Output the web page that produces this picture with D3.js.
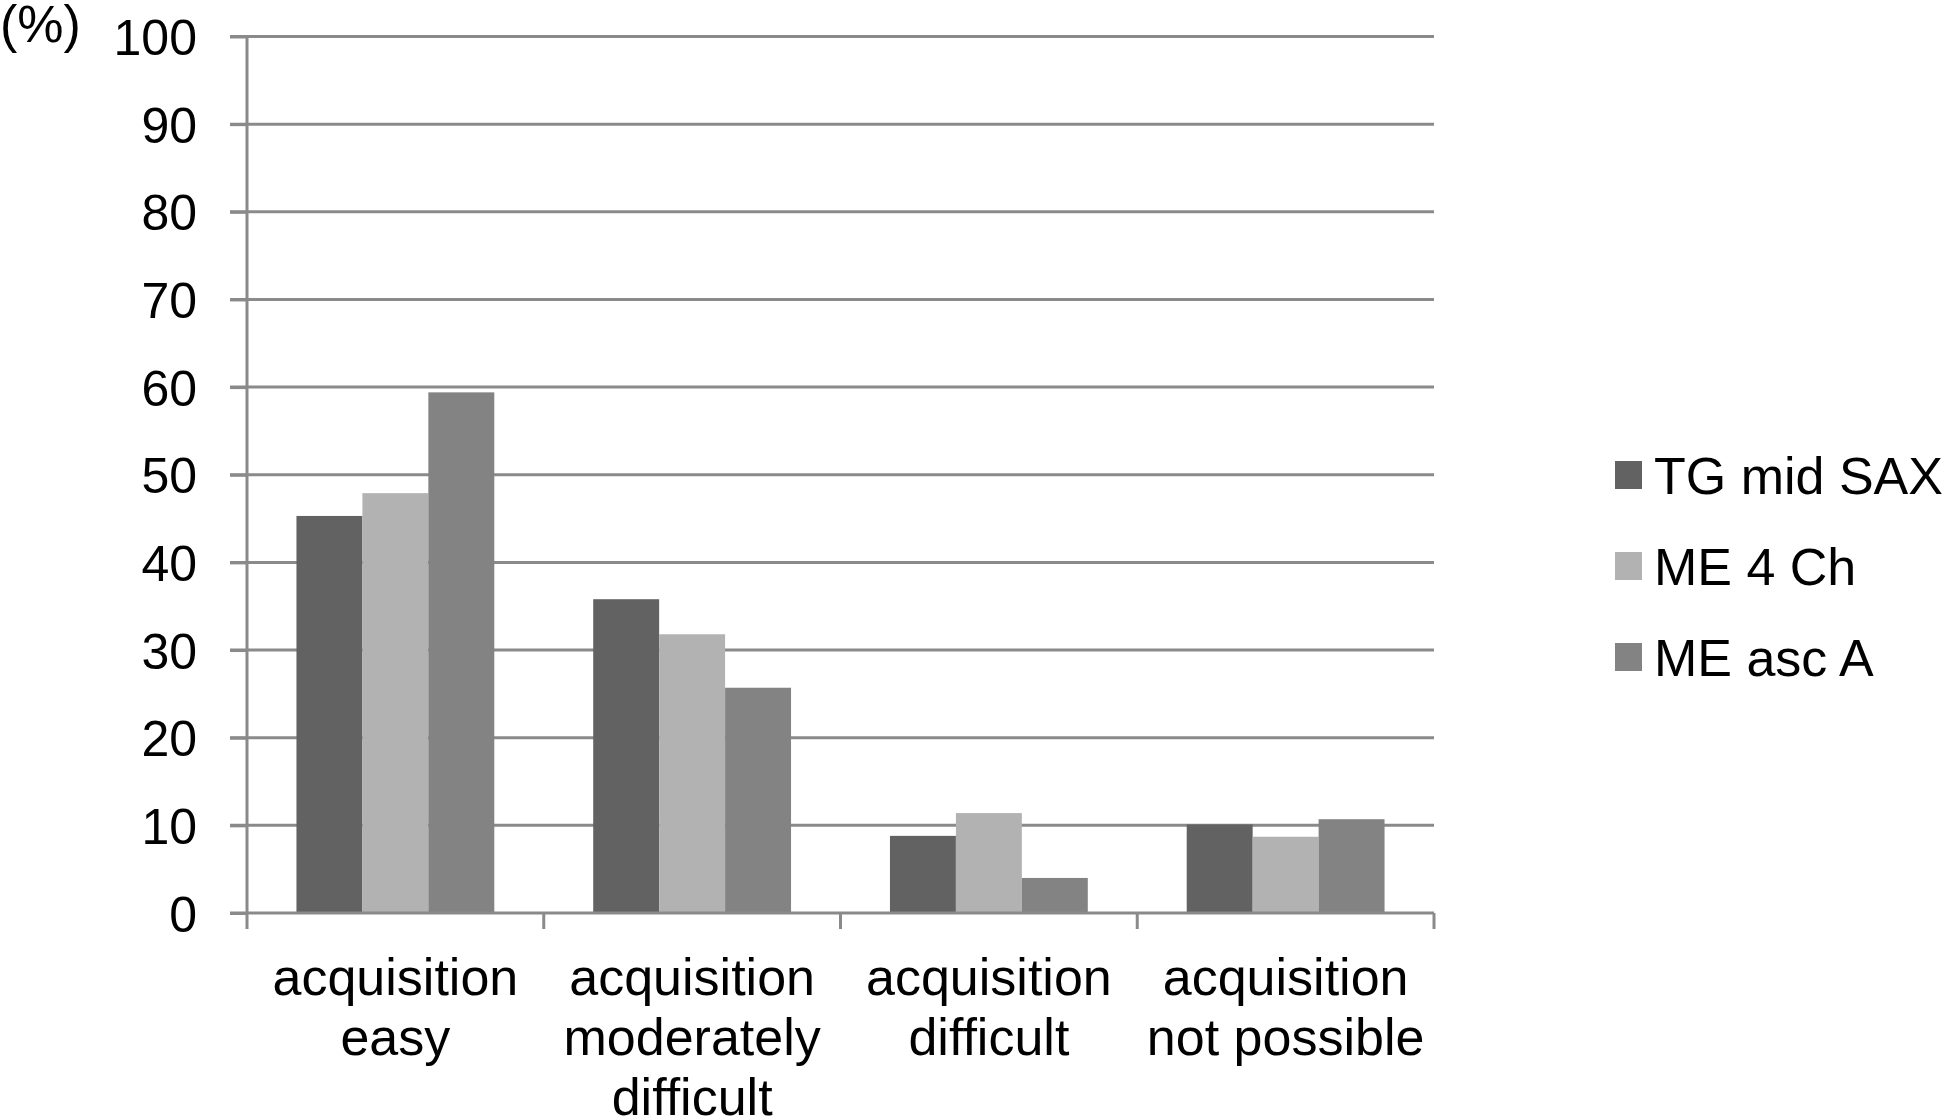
<!DOCTYPE html>
<html>
<head>
<meta charset="utf-8">
<script src="https://cdn.jsdelivr.net/npm/d3@7"></script>
<style>
  body { margin: 0; background: #fff; }
  svg { display: block; font-family: "Liberation Sans", Arial, sans-serif; }
</style>
</head>
<body>
<script>

// categories on the x axis (each one split in lines as in the picture)
var categories = ["easy", "moderately", "difficult", "not possible"];
var categoryLines = [
  ["acquisition", "easy"],
  ["acquisition", "moderately", "difficult"],
  ["acquisition", "difficult"],
  ["acquisition", "not possible"]
];

// series names and values (%)
var series = ["TG mid SAX", "ME 4 Ch", "ME asc A"];
var tgMidSax = [45.3, 35.8, 8.8, 10.1];
var me4Ch = [47.9, 31.8, 11.4, 8.7];
var meAscA = [59.4, 25.7, 4.0, 10.7];
var colors = ["#626262", "#b2b2b2", "#838383"];

// y tick labels
var yTicks = [0, 10, 20, 30, 40, 50, 60, 70, 80, 90, 100];


window.onload = function() {
  main();
};


function main() {
  var width = 1948;
  var height = 1119;
  var gridColor = "#8a8a8a";

  var svg = d3.select("body")
              .append("svg")
              .attr("width", width)
              .attr("height", height);

  // scales
  var x = d3.scaleBand()
            .domain(categories)
            .range([247, 1434]);
  var xs = d3.scaleBand()
             .domain(series)
             .range([0, x.bandwidth()])
             .paddingOuter(0.75);
  var y = d3.scaleLinear()
            .domain([0, 100])
            .range([913, 36.5]);

  // gridlines (behind the bars)
  svg.append("g")
     .selectAll("line")
     .data(yTicks.slice(1))
     .enter()
     .append("line")
     .attr("x1", 230)
     .attr("x2", 1434)
     .attr("y1", function(d) { return y(d); })
     .attr("y2", function(d) { return y(d); })
     .attr("stroke", gridColor)
     .attr("stroke-width", 3);

  // bars
  var values = [tgMidSax, me4Ch, meAscA];
  series.forEach(function(s, k) {
    svg.append("g")
       .selectAll("rect")
       .data(values[k])
       .enter()
       .append("rect")
       .attr("x", function(d, i) { return x(categories[i]) + xs(s); })
       .attr("y", function(d) { return y(d); })
       .attr("width", xs.bandwidth())
       .attr("height", function(d) { return y(0) - y(d); })
       .attr("fill", colors[k]);
  });

  // y axis
  var yAxis = d3.axisLeft(y)
                .tickValues(yTicks)
                .tickSize(17)
                .tickPadding(33)
                .tickSizeOuter(0);
  var gy = svg.append("g")
              .attr("transform", "translate(247,0)")
              .call(yAxis);
  gy.select(".domain").remove();
  gy.selectAll(".tick line")
    .attr("stroke", gridColor)
    .attr("stroke-width", 3);
  gy.selectAll(".tick text")
    .attr("fill", "#000")
    .style("font-size", "50px")
    .style("font-family", "Liberation Sans, Arial, sans-serif")
    .attr("dy", "0.36em");
  svg.append("line")
     .attr("x1", 247).attr("x2", 247)
     .attr("y1", y(100)).attr("y2", y(0) + 16)
     .attr("stroke", gridColor)
     .attr("stroke-width", 3);

  // x axis line and category boundary ticks
  svg.append("line")
     .attr("x1", 230).attr("x2", 1434)
     .attr("y1", y(0)).attr("y2", y(0))
     .attr("stroke", gridColor)
     .attr("stroke-width", 3);
  svg.append("g")
     .selectAll("line")
     .data(categories)
     .enter()
     .append("line")
     .attr("x1", function(d) { return x(d) + x.step(); })
     .attr("x2", function(d) { return x(d) + x.step(); })
     .attr("y1", y(0))
     .attr("y2", y(0) + 16)
     .attr("stroke", gridColor)
     .attr("stroke-width", 3);

  // category labels
  var labels = svg.append("g")
                  .selectAll("text")
                  .data(categories)
                  .enter()
                  .append("text")
                  .attr("text-anchor", "middle")
                  .style("font-size", "52px")
                  .attr("fill", "#000");
  labels.each(function(d, i) {
    var t = d3.select(this);
    categoryLines[i].forEach(function(line, j) {
      t.append("tspan")
       .attr("x", x(d) + x.bandwidth() / 2)
       .attr("y", 995 + j * 60)
       .text(line);
    });
  });

  // unit label
  svg.append("text")
     .attr("x", 0)
     .attr("y", 42)
     .style("font-size", "52px")
     .attr("fill", "#000")
     .text("(%)");

  // legend
  var legend = svg.append("g")
                  .selectAll("g")
                  .data(series)
                  .enter()
                  .append("g")
                  .attr("transform", function(d, i) {
                    return "translate(1615," + (475 + i * 91) + ")";
                  });
  legend.append("rect")
        .attr("x", 0)
        .attr("y", -14)
        .attr("width", 27)
        .attr("height", 28)
        .attr("fill", function(d, i) { return colors[i]; });
  legend.append("text")
        .attr("x", 39)
        .attr("y", 0)
        .attr("dy", "0.36em")
        .style("font-size", "52px")
        .attr("fill", "#000")
        .text(function(d) { return d; });
};
</script>
</body>
</html>
